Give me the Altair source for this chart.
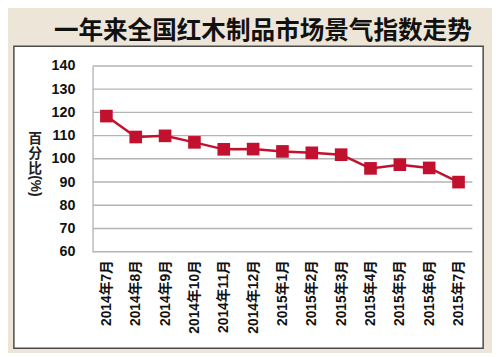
import altair as alt
import pandas as pd

months = ["2014年7月", "2014年8月", "2014年9月", "2014年10月", "2014年11月", "2014年12月",
          "2015年1月", "2015年2月", "2015年3月", "2015年4月", "2015年5月", "2015年6月", "2015年7月"]
values = [118.4, 109.4, 109.9, 107.1, 104.1, 104.2, 103.2, 102.6, 101.8, 95.9, 97.5, 96.1, 90.0]
y_ticks = [60, 70, 80, 90, 100, 110, 120, 130, 140]
title_text = "一年来全国红木制品市场景气指数走势"

df = pd.DataFrame({"month": months, "value": values})
FONT = "Liberation Sans, Noto Sans CJK SC"
RED = "#c2112e"
one = pd.DataFrame({"k": [0]})
yscale = alt.Scale(domain=[60, 140], nice=False, zero=False)
yaxis = alt.Axis(values=y_ticks, title=["百", "分", "比"], titleAngle=0,
                 titleX=-59, titleY=74, titleAlign="center", titleBaseline="middle",
                 titleFontSize=14, titleFont=FONT, titleFontWeight="bold",
                 titleColor="#222", titleLineHeight=15,
                 labelFontSize=14.5, labelFont=FONT, labelFontWeight="bold", labelColor="#111",
                 labelPadding=18, ticks=False, domain=True, domainColor="#bbbbbb",
                 domainWidth=1.5, grid=False, zindex=1)

panel = alt.Chart(one).mark_rect(
    fill="white", stroke="#4a4a4a", strokeWidth=1.5
).encode(x=alt.value(-80), x2=alt.value(397), y=alt.value(-20), y2=alt.value(287))

grid = alt.Chart(pd.DataFrame({"t": y_ticks})).mark_rule(
    color="#b4b4b4", strokeWidth=1.5
).encode(y=alt.Y("t:Q", scale=yscale, axis=yaxis))

pct = alt.Chart(one).mark_text(
    text="(%)", angle=90, fontSize=14, fontWeight="bold", font=FONT, color="#222"
).encode(x=alt.value(-59), y=alt.value(122))

title = alt.Chart(one).mark_text(
    text=title_text, fontSize=25, fontWeight="bold", font="Noto Sans CJK SC", color="#111",
    align="center", baseline="middle"
).encode(x=alt.value(173), y=alt.value(-35))

base = alt.Chart(df).encode(
    x=alt.X("month:N", sort=months, scale=alt.Scale(type="point", padding=0.47),
            axis=alt.Axis(title=None, labelAngle=-90, labelAlign="right", labelBaseline="middle",
                          labelPadding=8, labelFontSize=14, labelFont=FONT, labelFontWeight="bold",
                          labelColor="#111",
                          ticks=False, domain=False, grid=False, zindex=1)),
    y=alt.Y("value:Q", scale=yscale, axis=yaxis),
)

line = base.mark_line(color=RED, strokeWidth=2.5)
pts = base.mark_point(shape="square", filled=True, size=165, color=RED, opacity=1)

chart = alt.layer(panel, grid, pct, title, line, pts).properties(
    width=386, height=189,
    autosize=alt.AutoSizeParams(type="none"),
    padding={"left": 86, "top": 56, "right": 20, "bottom": 100},
    background="#ede6d8",
).configure_view(stroke=None)

chart.save("out.html", embed_options={"renderer": "svg", "actions": False})
